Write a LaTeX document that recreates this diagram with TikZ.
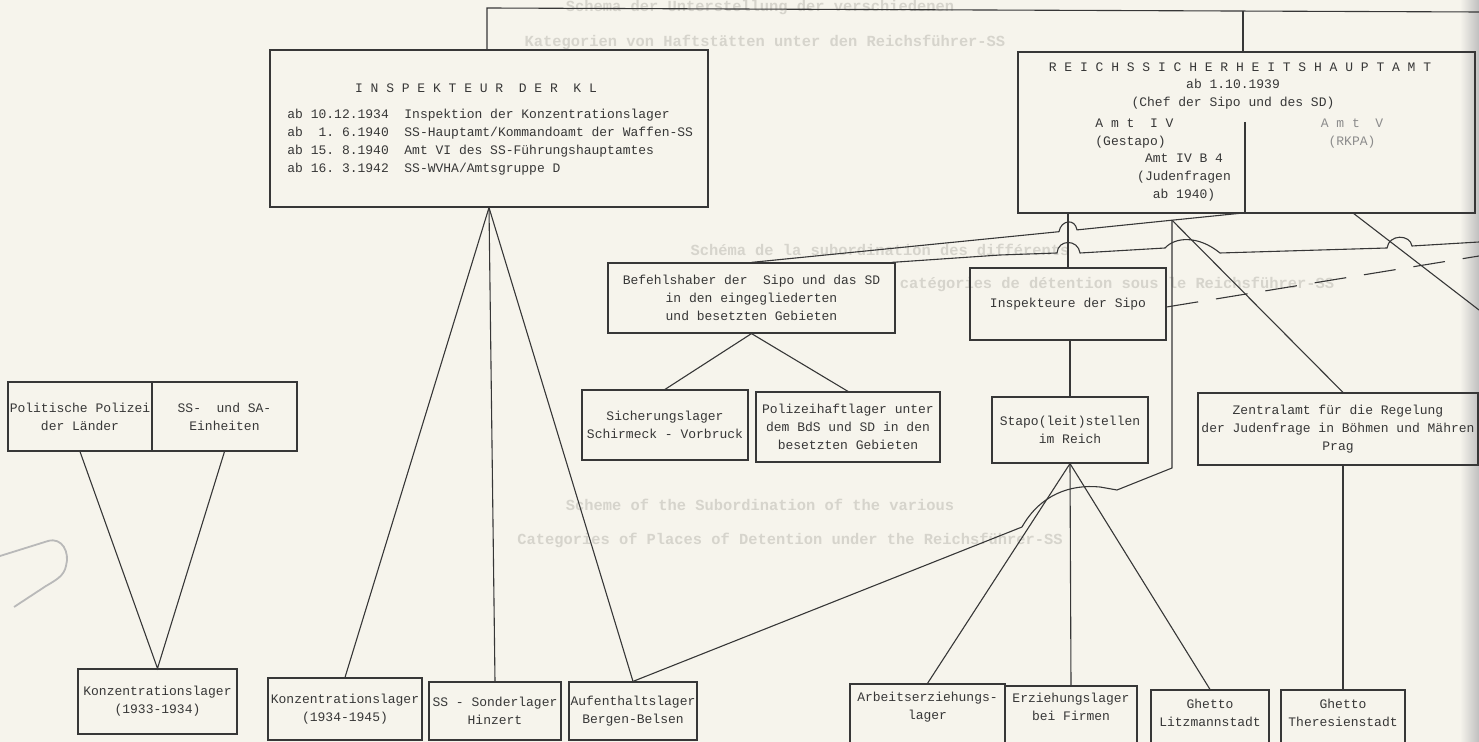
\documentclass[tikz,border=0pt]{standalone}
\usepackage{fontspec}
\newfontfamily\tw{Liberation Mono}
\frenchspacing
\definecolor{paper}{RGB}{246,244,236}
\definecolor{ink}{RGB}{55,55,55}
\definecolor{ghost}{RGB}{214,212,204}
\definecolor{dim}{RGB}{140,140,140}
\begin{document}
\begin{tikzpicture}[x=0.5pt,y=-0.5pt,
  sz/.style 2 args={minimum width=#1*0.5pt, minimum height=#2*0.5pt},
  box/.style={draw=ink, line width=0.6pt, inner sep=0pt, align=center, text=ink,
              font=\tw\fontsize{6.5}{9}\selectfont},
  txt/.style={inner sep=0pt, text=ink, align=center, font=\tw\fontsize{6.5}{9}\selectfont},
  conn/.style={draw=ink, line width=0.55pt},
  ghosttxt/.style={inner sep=0pt, text=ghost, font=\tw\bfseries\fontsize{7.7}{9}\selectfont}]
\useasboundingbox (0,0) rectangle (1479,742);
\fill[paper] (0,0) rectangle (1479,742);
\clip (0,0) rectangle (1479,742);
\shade[left color=paper, right color=black!25] (1460,0) rectangle (1479,742);

% faint show-through text
\node[ghosttxt] (g1) at (760,8) {Schema der Unterstellung der verschiedenen};
\node[ghosttxt] (g2) at (765,42) {Kategorien von Haftstätten unter den Reichsführer-SS};
\node[ghosttxt] (g3) at (880,250) {Schéma de la subordination des différents};
\node[ghosttxt] (g4) at (1117,284) {catégories de détention sous le Reichsführer-SS};
\node[ghosttxt] (g5) at (760,505) {Scheme of the Subordination of the various};
\node[ghosttxt] (g6) at (790,540) {Categories of Places of Detention under the Reichsführer-SS};

% finger shadow at left edge
\draw[gray!55, line width=0.9pt] (0,556) -- (48,541) .. controls (62,537) and (70,552) .. (66,566)
  .. controls (64,576) and (56,580) .. (46,586) -- (14,607);

% boxes
\node[box, sz={438}{157}] (kl) at (489,128.5) {};
\node[txt] (klt) at (476,88) {I N S P E K T E U R~ D E R~ K L};
\node[txt, anchor=west, align=left] (kll) at (287,142) {ab 10.12.1934~ Inspektion der Konzentrationslager\\
ab~ 1. 6.1940~ SS-Hauptamt/Kommandoamt der Waffen-SS\\
ab 15. 8.1940~ Amt VI des SS-Führungshauptamtes\\
ab 16. 3.1942~ SS-WVHA/Amtsgruppe D};

\node[box, sz={457}{161}] (rsha) at (1246.5,132.5) {};
\coordinate (dv) at (1245,122);
\draw[conn] (dv) -- (dv |- rsha.south);
\node[txt] (rt) at (1240,67) {R E I C H S S I C H E R H E I T S H A U P T A M T};
\node[txt] (rt2) at (1233,94) {ab 1.10.1939\\(Chef der Sipo und des SD)};
\node[txt, anchor=west, align=left] (a4t) at (1095,134) {A m t~ I V\\(Gestapo)};
\node[txt] (a4b) at (1184,178) {Amt IV B 4\\(Judenfragen\\ab 1940)};
\node[txt, text=dim] (a5t) at (1352,134) {A m t~ V\\(RKPA)};

\node[box, sz={287}{70}] (bds) at (751.5,298) {Befehlshaber der~ Sipo und das SD\\in den eingegliederten\\und besetzten Gebieten};
\node[box, sz={196}{72}] (insp) at (1068,304) {Inspekteure der Sipo};
\node[box, sz={166}{70}] (sich) at (665,425) {Sicherungslager\\Schirmeck - Vorbruck};
\node[box, sz={184}{70}] (poli) at (848,427) {Polizeihaftlager unter\\dem BdS und SD in den\\besetzten Gebieten};
\node[box, sz={156}{66}] (stapo) at (1070,430) {Stapo(leit)stellen\\im Reich};
\node[box, sz={280}{72}] (zentral) at (1338,429) {Zentralamt für die Regelung\\der Judenfrage in Böhmen und Mähren\\Prag};
\node[box, sz={144}{69}] (pol) at (80,416.5) {Politische Polizei\\der Länder};
\node[box, sz={145}{69}] (ssa) at (224.5,416.5) {SS-~ und SA-\\Einheiten};
\node[box, sz={159}{65}] (kz33) at (157.5,701.5) {Konzentrationslager\\(1933-1934)};
\node[box, sz={154}{62}] (kz34) at (345,709) {Konzentrationslager\\(1934-1945)};
\node[box, sz={132}{58}] (hinz) at (495,711) {SS - Sonderlager\\Hinzert};
\node[box, sz={128}{58}] (auf) at (633,711) {Aufenthaltslager\\Bergen-Belsen};
\node[box, sz={155}{66}] (arb) at (927.5,717) {};
\node[txt] (arbt) at (927.5,707) {Arbeitserziehungs-\\lager};
\node[box, sz={132}{64}] (erz) at (1071,718) {};
\node[txt] (erzt) at (1071,707) {Erziehungslager\\bei Firmen};
\node[box, sz={118}{60}] (litz) at (1210,720) {};
\node[txt] (litzt) at (1210,713) {Ghetto\\Litzmannstadt};
\node[box, sz={124}{60}] (ther) at (1343,720) {};
\node[txt] (thert) at (1343,713) {Ghetto\\Theresienstadt};

% connectors
\coordinate (t1) at (487,8);
\coordinate (tR) at (1479,12);
\coordinate (t2) at (1243,11.5);
\draw[conn] (t1 |- kl.north) -- (t1) -- (tR);
\draw[conn] (t2) -- (t2 |- rsha.north);

\draw[conn] (kl.south) -- (kz34.north);
\draw[conn] (kl.south) -- (hinz.north);
\draw[conn] (kl.south) -- (auf.north);
\draw[conn] (pol.south) -- (kz33.north) -- (ssa.south);
\draw[conn] (sich.north) -- (bds.south) -- (poli.north);

\draw[conn] (insp.north |- rsha.south) -- (insp.north);
\draw[conn] (stapo.north |- insp.south) -- (stapo.north);
\draw[conn] (stapo.south) -- (arb.north);
\draw[conn] (stapo.south) -- (erz.north);
\draw[conn] (stapo.south) -- (litz.north);
\draw[conn] (ther.north |- zentral.south) -- (ther.north);

\coordinate (J) at (1172,220.2);
\coordinate (a5) at (1243,213);
\draw[conn] (bds.north) -- (1059,231.7) .. controls (1061,220) and (1075,218) .. (1077,229.9) -- (J) -- (a5);
\draw[conn] (J) -- (1172,468) -- (1117,490) -- (1100,487) .. controls (1070,484) and (1040,495) .. (1022,527) -- (auf.north);
\draw[conn] (J) -- ([xshift=2.5pt]zentral.north);

\coordinate (d0) at (1353,213);
\coordinate (dR) at (1479,310);
\draw[conn] (d0) -- (dR);

\coordinate (bB) at ([xshift=-2pt]bds.north east);
\coordinate (bR) at (1479,242);
\draw[conn] (bB) -- (1000,255) -- (1057,253) .. controls (1058,239) and (1078,239) .. (1080,253)
  -- (1165,248) .. controls (1175,237) and (1198,235) .. (1220,253)
  -- (1387,248) .. controls (1389,234) and (1410,234) .. (1412,246) -- (bR);

\coordinate (eR) at (1479,256);
\draw[conn, dash pattern=on 16pt off 9pt] ([yshift=-1.5pt]insp.east) -- (eR);
\end{tikzpicture}
\end{document}
